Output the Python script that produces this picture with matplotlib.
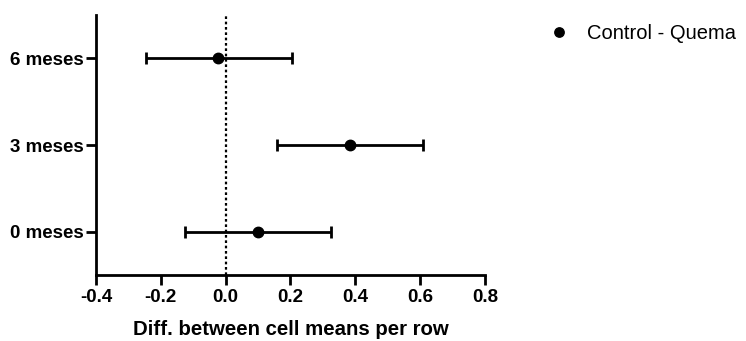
import numpy as np
import matplotlib.pyplot as plt

plt.rcParams['font.family'] = ['Liberation Sans', 'DejaVu Sans']

# difference between cell means (Control - Quema) with 95% CI
rows = ['0 meses', '3 meses', '6 meses']
diffs = [0.100, 0.383, -0.024]
ci_low = [-0.126, 0.158, -0.247]
ci_high = [0.326, 0.609, 0.205]
xticks = [-0.4, -0.2, 0.0, 0.2, 0.4, 0.6, 0.8]

ypos = np.arange(len(rows))
err = [np.array(diffs) - np.array(ci_low), np.array(ci_high) - np.array(diffs)]

fig = plt.figure(figsize=(7.46, 3.41), dpi=100)
ax = fig.add_axes([0.1287, 0.1935, 0.5214, 0.7625])

ax.axvline(0, color='black', linestyle=(0, (1.2, 1.2)), lw=1.6, zorder=1)
ax.errorbar(diffs, ypos, xerr=err, fmt='none', ecolor='black', elinewidth=2,
            capsize=4.3, capthick=2, zorder=2)
ax.plot(diffs, ypos, 'o', color='black', ms=7.5, zorder=3, label='Control - Quema')

ax.set_xlim(-0.4, 0.8)
ax.set_ylim(-0.5, 2.5)
ax.set_xticks(xticks)
ax.set_xticklabels([f'{v:.1f}' for v in xticks])
ax.set_yticks(ypos)
ax.set_yticklabels(rows)

for s in ['top', 'right']:
    ax.spines[s].set_visible(False)
for s in ['left', 'bottom']:
    ax.spines[s].set_linewidth(2)
ax.tick_params(axis='both', width=2, length=7, labelsize=13.5, pad=2)
ax.tick_params(axis='x', pad=3)
for lbl in ax.get_xticklabels() + ax.get_yticklabels():
    lbl.set_fontweight('bold')

ax.set_xlabel('Diff. between cell means per row', fontsize=14.7,
              fontweight='bold', labelpad=10)

leg = ax.legend(loc='upper left', bbox_to_anchor=(1.144, 0.998), frameon=False,
                fontsize=14.5, handlelength=1, handletextpad=0.9,
                markerscale=0.9, borderaxespad=0)

fig.savefig('out.png', dpi=100)
